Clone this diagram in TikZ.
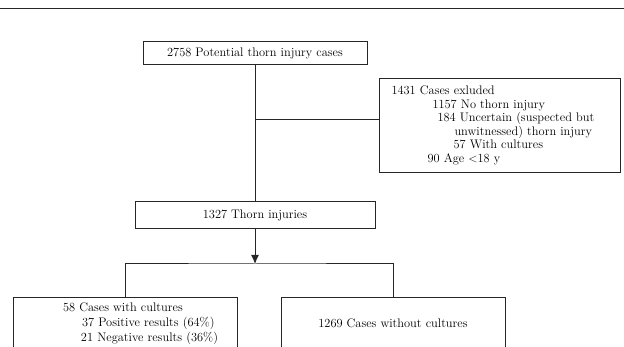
\documentclass[tikz,border=0pt]{standalone}
\usetikzlibrary{arrows.meta}

\tikzset{
  flowbox/.style={draw=black!85, line width=1pt, fill=white, inner sep=0pt,
    font=\fontsize{12.4}{13.6}\selectfont},
  flowline/.style={draw=black!85, line width=1pt},
}

\begin{document}
\begin{tikzpicture}[x=1pt,y=-1pt,>={Latex[length=9pt,width=8pt]}]
  \clip (0,0) rectangle (624,347);
  \draw[flowline] (0,9) -- (624,9);

  \node[flowbox, minimum width=224pt, minimum height=23pt] (potential) at (255,53.5) {2758 Potential thorn injury cases};
  \node[flowbox, anchor=north west, text width=217pt, inner xsep=12pt, minimum height=94pt, align=left] (excluded) at (379,78) {1431 Cases exluded\\
    \hspace*{41pt}1157 No thorn injury\\
    \hspace*{46pt}184 Uncertain (suspected but\\
    \hspace*{63pt}unwitnessed) thorn injury\\
    \hspace*{62pt}57 With cultures\\
    \hspace*{36pt}90 Age $<$18 y};
  \node[flowbox, minimum width=240pt, minimum height=27pt] (thorn) at (255,215.5) {1327 Thorn injuries};
  \node[flowbox, anchor=north, text width=204pt, inner xsep=10pt, minimum height=52pt, align=left] (withcult) at (125,297) {\hspace*{40pt}58 Cases with cultures\\[1.4pt]
    \hspace*{59pt}37 Positive results (64\%)\\[1.4pt]
    \hspace*{58pt}21 Negative results (36\%)};
  \node[flowbox, anchor=north, minimum width=224pt, minimum height=52pt] (withoutcult) at (393,297) {1269 Cases without cultures};

  \coordinate (branch) at (255,120);
  \coordinate (split) at (255,264);

  % flow
  \draw[flowline] (potential) -- (thorn);
  \draw[flowline] (branch) -- (branch -| excluded.west);
  \draw[flowline,->] (thorn) -- (split);
  \draw[flowline] (withcult.north) |- (split) -| (withoutcult.north);
\end{tikzpicture}
\end{document}
